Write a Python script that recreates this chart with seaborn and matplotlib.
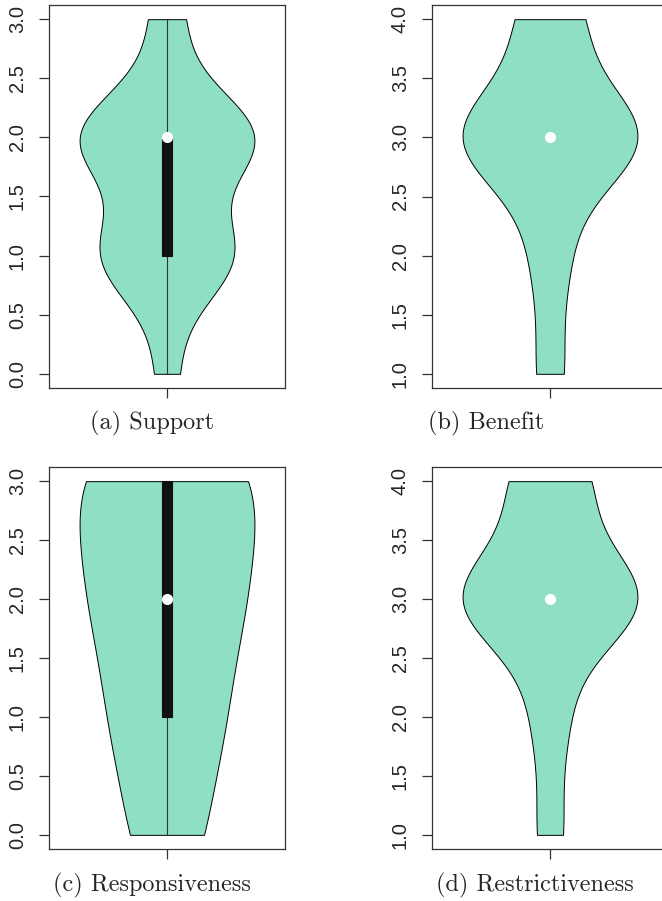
#!/usr/bin/env python3
"""Violin plots of Likert responses (R vioplot look) with seaborn."""

import matplotlib
matplotlib.use("Agg")
import matplotlib.pyplot as plt
import numpy as np
import seaborn as sns

# response counts per Likert level
support_levels = [0, 1, 2, 3]
support_counts = [2, 12, 16, 3]

benefit_levels = [1, 2, 3, 4]
benefit_counts = [3, 4, 20, 7]

responsiveness_levels = [0, 1, 2, 3]
responsiveness_counts = [4, 6, 8, 10]

restrictiveness_levels = [1, 2, 3, 4]
restrictiveness_counts = [3, 4, 21, 9]

captions = ["(a) Support", "(b) Benefit", "(c) Responsiveness", "(d) Restrictiveness"]

FILL = "#8EDFC4"


def setup_style():
    sns.set_theme(style="ticks")
    plt.rcParams["font.family"] = ["Liberation Sans", "DejaVu Sans"]
    plt.rcParams["axes.edgecolor"] = "#333333"
    plt.rcParams["axes.linewidth"] = 0.9


def draw_violin(ax, levels, counts):
    values = np.repeat(levels, counts).astype(float)
    sns.violinplot(
        y=values,
        ax=ax,
        cut=0,
        bw_adjust=1.06,
        inner=None,
        color=FILL,
        saturation=1,
        linecolor="black",
        linewidth=0.7,
        width=0.8,
        density_norm="width",
    )

    q1, med, q3 = np.percentile(values, [25, 50, 75])
    iqr = q3 - q1
    lo = values[values >= q1 - 1.5 * iqr].min()
    hi = values[values <= q3 + 1.5 * iqr].max()
    ax.plot([0, 0], [lo, hi], color="#333333", lw=0.8, zorder=3)
    ax.bar(0, q3 - q1, bottom=q1, width=0.05, color="#111111",
           edgecolor="#111111", linewidth=0.8, zorder=4)
    ax.plot(0, med, "o", color="white", ms=7, mec="white", zorder=5)

    lo_lim, hi_lim = min(levels), max(levels)
    pad = 0.04 * (hi_lim - lo_lim)
    ticks = np.arange(lo_lim, hi_lim + 0.01, 0.5)
    ax.set_ylim(lo_lim - pad, hi_lim + pad)
    ax.set_xlim(-0.54, 0.54)
    ax.set_yticks(ticks)
    ax.set_yticklabels([f"{t:.1f}" for t in ticks], rotation=90, va="center",
                       fontsize=14.5, family=["Liberation Sans", "DejaVu Sans"])
    ax.set_xticks([0])
    ax.set_xticklabels([""])
    ax.tick_params(axis="both", direction="out", length=7, width=0.9,
                   color="#333333")
    ax.tick_params(axis="y", pad=9, labelsize=14.5)
    ax.set_xlabel("")
    ax.set_ylabel("")
    for side in ["top", "right", "left", "bottom"]:
        ax.spines[side].set_visible(True)


def main():
    setup_style()
    fig = plt.figure(figsize=(6.62, 9.01), dpi=100)

    w = 236 / 662
    positions = [
        (49 / 662, (901 - 388) / 901, w, 383 / 901),
        (432 / 662, (901 - 388) / 901, w, 383 / 901),
        (49 / 662, (901 - 849) / 901, w, 382 / 901),
        (432 / 662, (901 - 849) / 901, w, 382 / 901),
    ]
    data = [
        (support_levels, support_counts),
        (benefit_levels, benefit_counts),
        (responsiveness_levels, responsiveness_counts),
        (restrictiveness_levels, restrictiveness_counts),
    ]
    caption_xy = [(152, 423), (486, 423), (152, 885), (535, 885)]

    for pos, (levels, counts), cap, (cx, cy) in zip(positions, data, captions, caption_xy):
        ax = fig.add_axes(pos)
        draw_violin(ax, levels, counts)
        fig.text(cx / 662, 1 - cy / 901, cap, ha="center", va="center",
                 fontsize=17.5, family=["cmr10", "DejaVu Serif"])

    fig.savefig("out.png", dpi=100)
    plt.close(fig)


if __name__ == "__main__":
    main()
